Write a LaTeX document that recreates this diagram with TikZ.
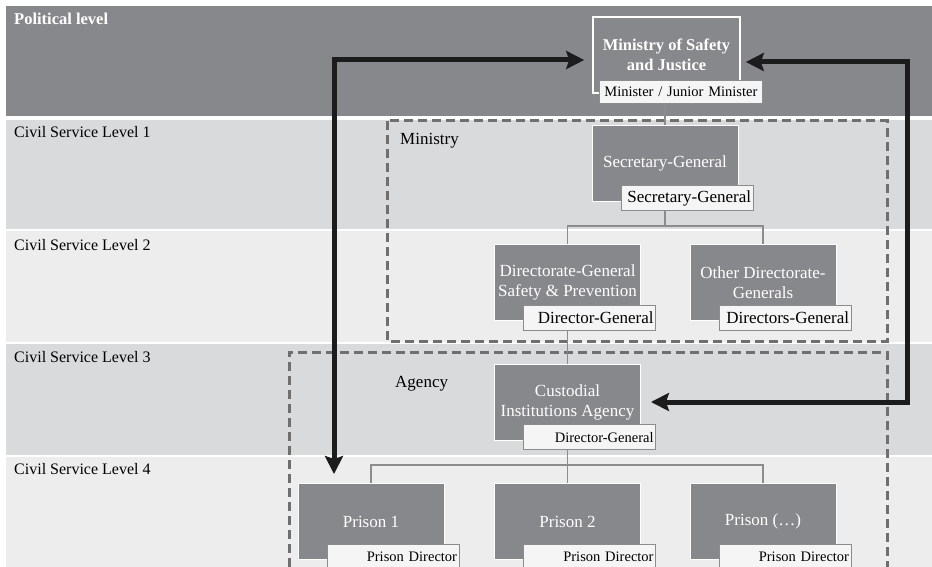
\documentclass[tikz,border=0pt]{standalone}
\usepackage{fontspec}
\setmainfont{Liberation Serif}
\usetikzlibrary{arrows.meta}

\definecolor{bandDark}{HTML}{87888B}
\definecolor{bandLight}{HTML}{D9DADC}
\definecolor{bandPale}{HTML}{EDEDED}
\definecolor{tagFill}{HTML}{F5F5F5}
\definecolor{lineGray}{HTML}{8C8C8C}
\definecolor{dashGray}{HTML}{6F6F6F}
\definecolor{arrowBlack}{HTML}{1C1C1C}

\begin{document}
\begin{tikzpicture}[x=1pt, y=-1pt,
  box/.style={rectangle, fill=bandDark, draw=white, line width=0.9pt, text=white, minimum width=146pt, minimum height=76pt, inner sep=2pt, align=center, font=\fontsize{17}{20}\selectfont},
  tag/.style={rectangle, fill=tagFill, draw=lineGray, line width=0.8pt, minimum height=25pt, inner xsep=2pt, inner ysep=0pt, text width=128pt, align=right, anchor=north east, font=\fontsize{17}{20}\selectfont},
  smalltag/.style={tag, font=\fontsize{14.5}{17}\selectfont},
  level/.style={anchor=base west, inner sep=0pt, font=\fontsize{16}{19}\selectfont}]

    \useasboundingbox (0,0) rectangle (932,567);

    % bands
    \fill[bandDark] (6,6) rectangle (932,116);
    \fill[bandLight] (6,120) rectangle (932,229);
    \fill[bandPale] (6,231) rectangle (932,342);
    \fill[bandLight] (6,344) rectangle (932,455);
    \fill[bandPale] (6,457) rectangle (932,567);

    \node[level, text=white, font=\bfseries\fontsize{16.5}{19}\selectfont] (pol) at (14,25) {Political level};
    \node[level] (cs1) at (14,138) {Civil Service Level 1};
    \node[level] (cs2) at (14,250) {Civil Service Level 2};
    \node[level] (cs3) at (14,362) {Civil Service Level 3};
    \node[level] (cs4) at (14,474) {Civil Service Level 4};

    % ministry and agency frames
    \begin{scope}[dashGray, line width=3pt, dash pattern=on 9pt off 5pt]
      \draw (387,121) rectangle (887,341);
      \draw (289,567) -- (289,352) -- (887,352) -- (887,567);
    \end{scope}
    \node[level, font=\fontsize{17}{20}\selectfont] (minlbl) at (400,145) {Ministry};
    \node[level, font=\fontsize{17}{20}\selectfont] (agylbl) at (395,387) {Agency};

    % organisations
    \node[box, line width=1.6pt, minimum width=147pt, font=\bfseries\fontsize{16.5}{20}\selectfont] (msj) at (666.5,55) {Ministry of Safety\\and Justice};
    \node[box] (sg) at (665,163) {Secretary-General};
    \node[box] (dgsp) at (567.5,282.5) {Directorate-General\\Safety \& Prevention};
    \node[box] (odg) at (763,282.5) {Other Directorate-\\Generals};
    \node[box] (cia) at (567.5,402) {Custodial\\Institutions Agency};
    \node[box] (p1) at (371,521.5) {Prison 1};
    \node[box] (p2) at (567.5,521.5) {Prison 2};
    \node[box] (p3) at (763,521.5) {Prison (…)};

    \coordinate (j2) at ([yshift=18pt]dgsp.north);
    \coordinate (j4) at ([yshift=18pt]p1.north);
    \begin{scope}[lineGray, line width=1.2pt]
      \draw (sg.north) -- (sg.north |- msj.south);
      \draw (sg.south) -- (sg.south |- j2);
      \draw (dgsp.north) -- (j2) -| (odg.north);
      \draw (dgsp.south) -- (cia.north);
      \draw (cia.south) -- (p2.north);
      \draw (p1.north) -- (j4) -| (p3.north);
    \end{scope}

    % officials
    \node[smalltag, text width=159pt, minimum height=23pt, align=center] (msjt) at ([shift={(22,-14)}]msj.south east) {Minister / Junior Minister};
    \node[tag] (sgt) at ([shift={(15,-16)}]sg.south east) {Secretary-General};
    \node[tag] (dgspt) at ([shift={(15,-16)}]dgsp.south east) {Director-General};
    \node[tag] (odgt) at ([shift={(15,-16)}]odg.south east) {Directors-General};
    \node[smalltag] (ciat) at ([shift={(15,-16)}]cia.south east) {Director-General};
    \node[smalltag] (p1t) at ([shift={(15,-16)}]p1.south east) {Prison Director};
    \node[smalltag] (p2t) at ([shift={(15,-16)}]p2.south east) {Prison Director};
    \node[smalltag] (p3t) at ([shift={(15,-16)}]p3.south east) {Prison Director};

    % lines of accountability
    \begin{scope}[<->, >={Stealth[length=18pt, width=18pt, inset=3pt]}, arrowBlack, line width=5pt]
      \draw[shorten <=8pt, shorten >=9pt] ([yshift=-5pt]msj.west) -| ([xshift=-37pt]p1.north);
      \draw[shorten <=5pt, shorten >=10pt] ([yshift=-7pt]msj.east) -- ++(167,0) |- (cia.east);
    \end{scope}

  \end{tikzpicture}
\end{document}
